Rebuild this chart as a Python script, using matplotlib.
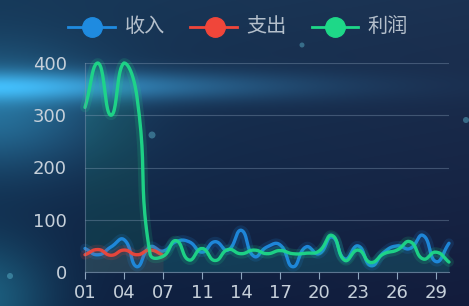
import numpy as np
import matplotlib
matplotlib.use('Agg')
import matplotlib.pyplot as plt

plt.rcParams['font.family'] = ['DejaVu Sans', 'Noto Sans CJK SC']

# categories (day of month, 10 is missing in the source)
days = ['01', '02', '03', '04', '05', '06', '07', '08', '09', '11', '12', '13', '14', '15',
        '16', '17', '18', '19', '20', '21', '22', '23', '24', '25', '26', '27', '28', '29', '30']

income = [45, 33, 48, 62, 10, 48, 40, 58, 58, 38, 58, 42, 80, 30, 48,
          52, 10, 48, 35, 67, 25, 50, 12, 38, 50, 45, 70, 20, 55]
expense = [33, 43, 32, 42, 33, 42, 32]
profit = [315, 400, 300, 400, 335, 35, 30, 60, 23, 45, 22, 43, 35, 42, 35,
          41, 35, 36, 40, 70, 22, 42, 18, 35, 42, 58, 25, 38, 19]

series_names = ['收入', '支出', '利润']
colors = ['#1f8be0', '#f0463a', '#1ed888']

W, H = 469, 306
XS, YS = 13.0, 0.52   # approx pixel per unit, used for smoothing shape


def smooth_line(vals, smooth=0.5, n=24):
    # echarts-like bezier smoothing
    x = np.arange(len(vals), dtype=float)
    P = np.column_stack([x * XS, np.array(vals, dtype=float) * YS])
    m = len(P)
    cin = np.zeros_like(P)
    cout = np.zeros_like(P)
    lo, hi = P.min(axis=0), P.max(axis=0)
    for i in range(m):
        prev = P[i - 1] if i > 0 else P[i]
        nxt = P[i + 1] if i < m - 1 else P[i]
        v = (nxt - prev) * smooth
        d0 = np.linalg.norm(P[i] - prev)
        d1 = np.linalg.norm(nxt - P[i])
        tot = d0 + d1
        if tot > 0:
            d0, d1 = d0 / tot, d1 / tot
        cin[i] = np.clip(P[i] - v * d0, lo, hi)
        cout[i] = np.clip(P[i] + v * d1, lo, hi)
    t = np.linspace(0, 1, n)[:, None]
    pts = [P[:1]]
    for i in range(m - 1):
        a, b, c, d = P[i], cout[i], cin[i + 1], P[i + 1]
        seg = (1 - t) ** 3 * a + 3 * (1 - t) ** 2 * t * b + 3 * (1 - t) * t ** 2 * c + t ** 3 * d
        pts.append(seg[1:])
    pts = np.vstack(pts)
    return pts[:, 0] / XS, pts[:, 1] / YS


fig = plt.figure(figsize=(W / 100, H / 100), dpi=100)

# background
bg = fig.add_axes([0, 0, 1, 1])
yy, xx = np.mgrid[0:H, 0:W]
base_top = np.array([22, 56, 88]) / 255
base_bot = np.array([13, 34, 66]) / 255
f = (yy / H)[..., None]
img = base_top * (1 - f) + base_bot * f
img = img + (np.array([6, -6, -6]) / 255) * (xx / W)[..., None]
glow = np.exp(-((xx - 10) / 260.0) ** 2 - ((yy - 86) / 15.0) ** 2)
glow2 = np.exp(-((xx + 10) / 110.0) ** 2 - ((yy - 110) / 60.0) ** 2)
glow3 = np.exp(-((xx + 20) / 70.0) ** 2 - ((yy - 300) / 60.0) ** 2)
img = img + glow[..., None] * np.array([30, 85, 105]) / 255
img = img + glow2[..., None] * np.array([20, 65, 75]) / 255
img = img + glow3[..., None] * np.array([15, 60, 60]) / 255
bg.imshow(np.clip(img, 0, 1), extent=[0, W, H, 0], aspect='auto')
for cx, cy, r in [(152, 135, 3.5), (302, 45, 2.5), (10, 276, 3), (466, 120, 3)]:
    bg.add_patch(plt.Circle((cx, cy), r, color='#5fb8d0', alpha=0.45, lw=0))
bg.set_xlim(0, W)
bg.set_ylim(H, 0)
bg.axis('off')

# legend drawn by hand
leg = [(68, 115, 92, 125), (190, 237, 215, 246), (312, 358, 335, 367)]
for (x0, x1, cx, tx), name, col in zip(leg, series_names, colors):
    bg.plot([x0, x1], [27, 27], color=col, lw=2)
    bg.plot([cx], [27], 'o', color=col, ms=14, mec=col)
    bg.text(tx, 27, name, color='#b4bfcb', fontsize=14.5, va='center', ha='left',
            family=['Noto Sans CJK SC', 'DejaVu Sans'])

ax = fig.add_axes([85 / W, (H - 272) / H, 364 / W, 209 / H])
ax.patch.set_alpha(0)

for vals, col in [(income, colors[0]), (expense, colors[1]), (profit, colors[2])]:
    sx, sy = smooth_line(vals)
    ax.fill_between(sx, 0, sy, color=col, alpha=0.10, lw=0)
    ax.plot(sx, sy, color=col, lw=7, alpha=0.15, solid_capstyle='round', clip_on=False)
    ax.plot(sx, sy, color=col, lw=2.4, alpha=0.95, solid_capstyle='round', clip_on=False)

ax.set_xlim(0, len(days) - 1)
ax.set_ylim(0, 400)
ax.set_yticks([0, 100, 200, 300, 400])
ax.set_xticks(range(0, len(days), 3))
ax.set_xticklabels(days[::3])
ax.grid(axis='y', color='#8fa6bf', alpha=0.35, lw=0.8)
for s in ['top', 'right']:
    ax.spines[s].set_visible(False)
ax.spines['left'].set_color('#7b94ad')
ax.spines['left'].set_alpha(0.5)
ax.spines['bottom'].set_color('#8fa6bf')
ax.spines['bottom'].set_alpha(0.6)
ax.tick_params(axis='y', length=0, pad=13, labelsize=13, labelcolor='#c6d0da')
ax.tick_params(axis='x', length=5, width=0.8, color='#8fa6bf', pad=4, labelsize=13,
               labelcolor='#c6d0da')

fig.savefig('out.png', dpi=100)
